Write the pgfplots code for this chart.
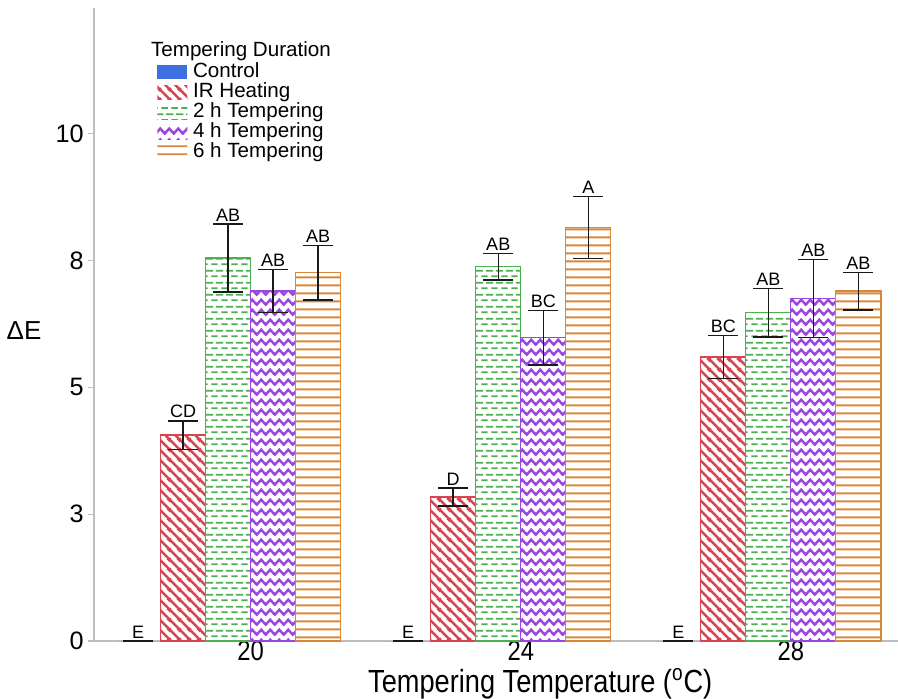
\documentclass[border=0pt]{standalone}
\usepackage{fontspec}
\setmainfont{Liberation Sans}
\newfontfamily\narrowfont[FakeStretch=0.85]{Liberation Sans}
\usepackage{pgfplots}
\usepackage{pgfplotstable}
\pgfplotsset{compat=1.18}
\usetikzlibrary{patterns.meta}

\definecolor{cblue}{RGB}{61,111,224}
\definecolor{cred}{RGB}{214,69,80}
\definecolor{cgreen}{RGB}{76,175,80}
\definecolor{cpurple}{RGB}{155,70,224}
\definecolor{corange}{RGB}{217,134,58}
\definecolor{axgray}{RGB}{190,190,190}
\definecolor{errcol}{RGB}{25,25,25}

\tikzdeclarepattern{
  name=irstripe, type=uncolored,
  bottom left={(0pt,0pt)}, top right={(5pt,5pt)}, tile size={(5pt,5pt)},
  code={
    \pgfsetlinewidth{1.35pt}
    \pgfpathmoveto{\pgfqpoint{-2.5pt}{2.5pt}}\pgfpathlineto{\pgfqpoint{2.5pt}{-2.5pt}}
    \pgfpathmoveto{\pgfqpoint{-1pt}{6pt}}\pgfpathlineto{\pgfqpoint{6pt}{-1pt}}
    \pgfpathmoveto{\pgfqpoint{2.5pt}{7.5pt}}\pgfpathlineto{\pgfqpoint{7.5pt}{2.5pt}}
    \pgfusepath{stroke}
  }
}
\tikzdeclarepattern{
  name=dashrows, type=uncolored,
  bottom left={(0pt,0pt)}, top right={(5pt,6pt)}, tile size={(5pt,6pt)},
  code={
    \pgfsetlinewidth{0.9pt}
    \pgfpathmoveto{\pgfqpoint{0.75pt}{1.5pt}}\pgfpathlineto{\pgfqpoint{4.25pt}{1.5pt}}
    \pgfpathmoveto{\pgfqpoint{-1.75pt}{4.5pt}}\pgfpathlineto{\pgfqpoint{1.75pt}{4.5pt}}
    \pgfpathmoveto{\pgfqpoint{3.25pt}{4.5pt}}\pgfpathlineto{\pgfqpoint{6.75pt}{4.5pt}}
    \pgfusepath{stroke}
  }
}
\tikzdeclarepattern{
  name=zigzag, type=uncolored,
  bottom left={(0pt,0pt)}, top right={(4.6pt,5.2pt)}, tile size={(4.6pt,5.2pt)},
  code={
    \pgfsetlinewidth{1.3pt}
    \pgfpathmoveto{\pgfqpoint{-2.3pt}{3.85pt}}
    \pgfpathlineto{\pgfqpoint{0pt}{1.35pt}}
    \pgfpathlineto{\pgfqpoint{2.3pt}{3.85pt}}
    \pgfpathlineto{\pgfqpoint{4.6pt}{1.35pt}}
    \pgfpathlineto{\pgfqpoint{6.9pt}{3.85pt}}
    \pgfusepath{stroke}
  }
}
\tikzdeclarepattern{
  name=hlines, type=uncolored,
  bottom left={(0pt,0pt)}, top right={(2pt,4.1pt)}, tile size={(2pt,4.1pt)},
  code={
    \pgfsetlinewidth{1pt}
    \pgfpathmoveto{\pgfqpoint{-1pt}{2pt}}\pgfpathlineto{\pgfqpoint{3pt}{2pt}}
    \pgfusepath{stroke}
  }
}

\pgfplotstableread{
x y e
0 0 0
6 0 0
12 0 0
}\control
\pgfplotstableread{
x y e
1 4.06 0.28
7 2.84 0.18
13 5.60 0.42
}\irheat
\pgfplotstableread{
x y e
2 7.55 0.67
8 7.38 0.26
14 6.47 0.48
}\twoh
\pgfplotstableread{
x y e
3 6.90 0.42
9 5.98 0.54
15 6.75 0.77
}\fourh
\pgfplotstableread{
x y e
4 7.26 0.54
10 8.15 0.61
16 6.90 0.37
}\sixh
\pgfplotstableread{
x y lab
0 0 E
1 4.34 CD
2 8.22 AB
3 7.32 AB
4 7.80 AB
6 0 E
7 3.02 D
8 7.64 AB
9 6.52 BC
10 8.76 A
12 0 E
13 6.02 BC
14 6.95 AB
15 7.52 AB
16 7.27 AB
}\letters

\pgfplotsset{
  patchlegend/.style={legend image code/.code={\draw[##1, draw=none] (0pt,-3.5pt) rectangle (15pt,3.5pt);}},
}

\begin{document}
\begin{tikzpicture}
\useasboundingbox (-47pt,-28.5pt) rectangle (402pt,320.5pt);
\begin{axis}[
  scale only axis, width=402pt, height=316.5pt,
  xmin=-0.98, xmax=16.88, ymin=0, ymax=12.48,
  axis x line*=bottom, axis y line*=left,
  axis line style={-, axgray, line width=0.7pt},
  ytick={0,2.5,5,7.5,10}, yticklabels={0,3,5,8,10},
  xtick={2.5,8.5,14.5}, xticklabels={20,24,28},
  /pgf/number format/assume math mode=true,
  y tick style={axgray, line width=0.7pt},
  x tick style={draw=none},
  major tick length=3pt,
  tick align=outside,
  yticklabel style={font=\fontsize{12.6}{15}\selectfont, inner sep=2pt},
  xticklabel style={font=\narrowfont\fontsize{14}{16}\selectfont, inner sep=2pt, yshift=5pt},
  ylabel={ΔE},
  ylabel style={rotate=-90, at={(axis description cs:-0.087,0.491)}, anchor=center, font=\fontsize{13}{15}\selectfont},
  xlabel={Tempering Temperature (\textsuperscript{o}C)},
  xlabel style={at={(axis description cs:0.555,0)}, anchor=center, yshift=-21.5pt, font=\narrowfont\fontsize{16}{18}\selectfont},
  legend style={draw=none, fill=none, font=\fontsize{10.3}{12}\selectfont,
    at={(axis description cs:0.071,0.954)}, anchor=north west,
    row sep=0pt,
    nodes={inner sep=0.3pt, text height=7.4pt, text depth=2.1pt},
    /tikz/every odd column/.append style={column sep=2.5pt}},
  legend cell align=left,
  error bars/error bar style={errcol, line width=0.75pt},
  error bars/error mark options={rotate=90, mark size=7.5pt, errcol, line width=0.75pt},
]
\addlegendimage{empty legend}
\addlegendentry{\hspace*{-21pt}Tempering Duration}

\addplot[ybar, bar width=1, bar shift=0, fill=cblue, draw=none, patchlegend,
  error bars/.cd, y dir=both, y explicit]
  table[x=x, y=y, y error=e]{\control};
\addlegendentry{Control}

\addplot[ybar, bar width=1, bar shift=0, draw=cred, line width=0.6pt, pattern=irstripe, pattern color=cred, patchlegend,
  error bars/.cd, y dir=both, y explicit]
  table[x=x, y=y, y error=e]{\irheat};
\addlegendentry{IR Heating}

\addplot[ybar, bar width=1, bar shift=0, draw=cgreen, line width=0.6pt, pattern=dashrows, pattern color=cgreen, patchlegend,
  error bars/.cd, y dir=both, y explicit]
  table[x=x, y=y, y error=e]{\twoh};
\addlegendentry{2 h Tempering}

\addplot[ybar, bar width=1, bar shift=0, draw=cpurple, line width=0.6pt, pattern=zigzag, pattern color=cpurple, patchlegend,
  error bars/.cd, y dir=both, y explicit]
  table[x=x, y=y, y error=e]{\fourh};
\addlegendentry{4 h Tempering}

\addplot[ybar, bar width=1, bar shift=0, draw=corange, line width=0.6pt, pattern=hlines, pattern color=corange, patchlegend,
  error bars/.cd, y dir=both, y explicit]
  table[x=x, y=y, y error=e]{\sixh};
\addlegendentry{6 h Tempering}

\addplot[draw=none, mark=none, forget plot, nodes near coords, point meta=explicit symbolic,
  nodes near coords style={anchor=south, font=\fontsize{9}{10}\selectfont, inner sep=1.2pt, text=black}]
  table[x=x, y=y, meta=lab]{\letters};
\end{axis}
\end{tikzpicture}
\end{document}
